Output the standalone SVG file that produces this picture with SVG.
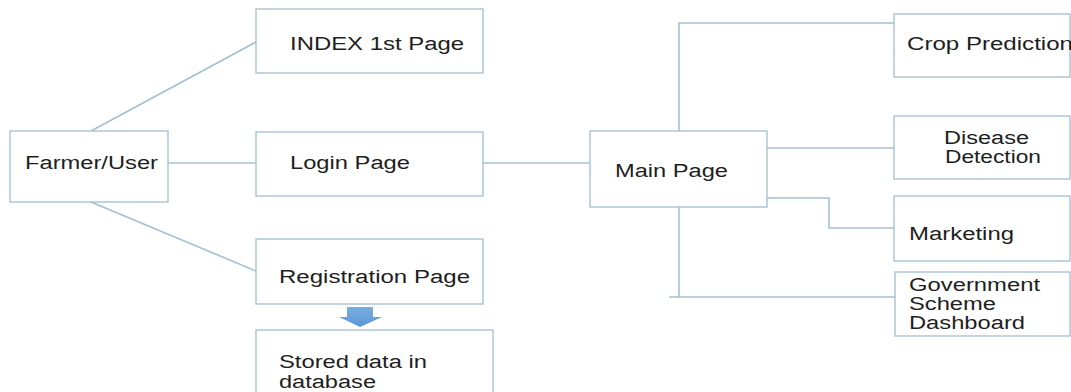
<svg xmlns="http://www.w3.org/2000/svg" width="1071" height="392" viewBox="0 0 1071 392">
<style>
.box{fill:#ffffff;stroke:#a9c2d2;stroke-width:1.4}
.ln{fill:none;stroke:#a3c0d3;stroke-width:1.6}
.t{font-family:"Liberation Sans",Arial,sans-serif;font-size:18px;fill:#1e1e1e}
</style>
<defs>
<linearGradient id="ag" x1="0" y1="0" x2="0" y2="1">
<stop offset="0" stop-color="#7aaee2"/>
<stop offset="1" stop-color="#5a96d6"/>
</linearGradient>
</defs>
<rect width="1071" height="392" fill="#ffffff"/>
<g id="connectors">
<line class="ln" x1="91" y1="131" x2="256" y2="42"/>
<line class="ln" x1="168" y1="163" x2="256" y2="163"/>
<line class="ln" x1="91" y1="202" x2="256" y2="271"/>
<line class="ln" x1="483" y1="163" x2="590" y2="163"/>
<polyline class="ln" points="679,131 679,23 894,23"/>
<line class="ln" x1="767" y1="148" x2="894" y2="148"/>
<polyline class="ln" points="767,198 829,198 829,228 894,228"/>
<line class="ln" x1="679" y1="207" x2="679" y2="297"/>
<line class="ln" x1="669" y1="297" x2="895" y2="297"/>
<polygon id="block-arrow" points="347,307 373,307 373,317 382,317 360,327 339,317 347,317" fill="url(#ag)"/>
</g>
<g id="farmer">
<rect class="box" x="10" y="131" width="158" height="71"/>
<text class="t" x="25" y="169" textLength="133" lengthAdjust="spacingAndGlyphs">Farmer/User</text>
</g>
<g id="index">
<rect class="box" x="256" y="9" width="227" height="64"/>
<text class="t" x="290" y="50" textLength="174" lengthAdjust="spacingAndGlyphs">INDEX 1st Page</text>
</g>
<g id="login">
<rect class="box" x="256" y="132" width="227" height="64"/>
<text class="t" x="290" y="169" textLength="120" lengthAdjust="spacingAndGlyphs">Login Page</text>
</g>
<g id="registration">
<rect class="box" x="256" y="239" width="227" height="65"/>
<text class="t" x="279" y="283" textLength="191" lengthAdjust="spacingAndGlyphs">Registration Page</text>
</g>
<g id="stored">
<rect class="box" x="256" y="330" width="237" height="70"/>
<text class="t" x="279" y="368" textLength="148" lengthAdjust="spacingAndGlyphs">Stored data in</text>
<text class="t" x="279" y="388" textLength="97" lengthAdjust="spacingAndGlyphs">database</text>
</g>
<g id="main">
<rect class="box" x="590" y="131" width="177" height="76"/>
<text class="t" x="615" y="177" textLength="113" lengthAdjust="spacingAndGlyphs">Main Page</text>
</g>
<g id="crop">
<rect class="box" x="894" y="14" width="176" height="63"/>
<text class="t" x="907" y="50" textLength="166" lengthAdjust="spacingAndGlyphs">Crop Prediction</text>
</g>
<g id="disease">
<rect class="box" x="894" y="116" width="176" height="63"/>
<text class="t" x="944" y="144" textLength="85" lengthAdjust="spacingAndGlyphs">Disease</text>
<text class="t" x="945" y="163" textLength="96" lengthAdjust="spacingAndGlyphs">Detection</text>
</g>
<g id="marketing">
<rect class="box" x="894" y="196" width="176" height="65"/>
<text class="t" x="909" y="240" textLength="105" lengthAdjust="spacingAndGlyphs">Marketing</text>
</g>
<g id="government">
<rect class="box" x="895" y="272" width="175" height="64"/>
<text class="t" x="909" y="291" textLength="131" lengthAdjust="spacingAndGlyphs">Government</text>
<text class="t" x="909" y="310" textLength="87" lengthAdjust="spacingAndGlyphs">Scheme</text>
<text class="t" x="909" y="329" textLength="116" lengthAdjust="spacingAndGlyphs">Dashboard</text>
</g>
</svg>
